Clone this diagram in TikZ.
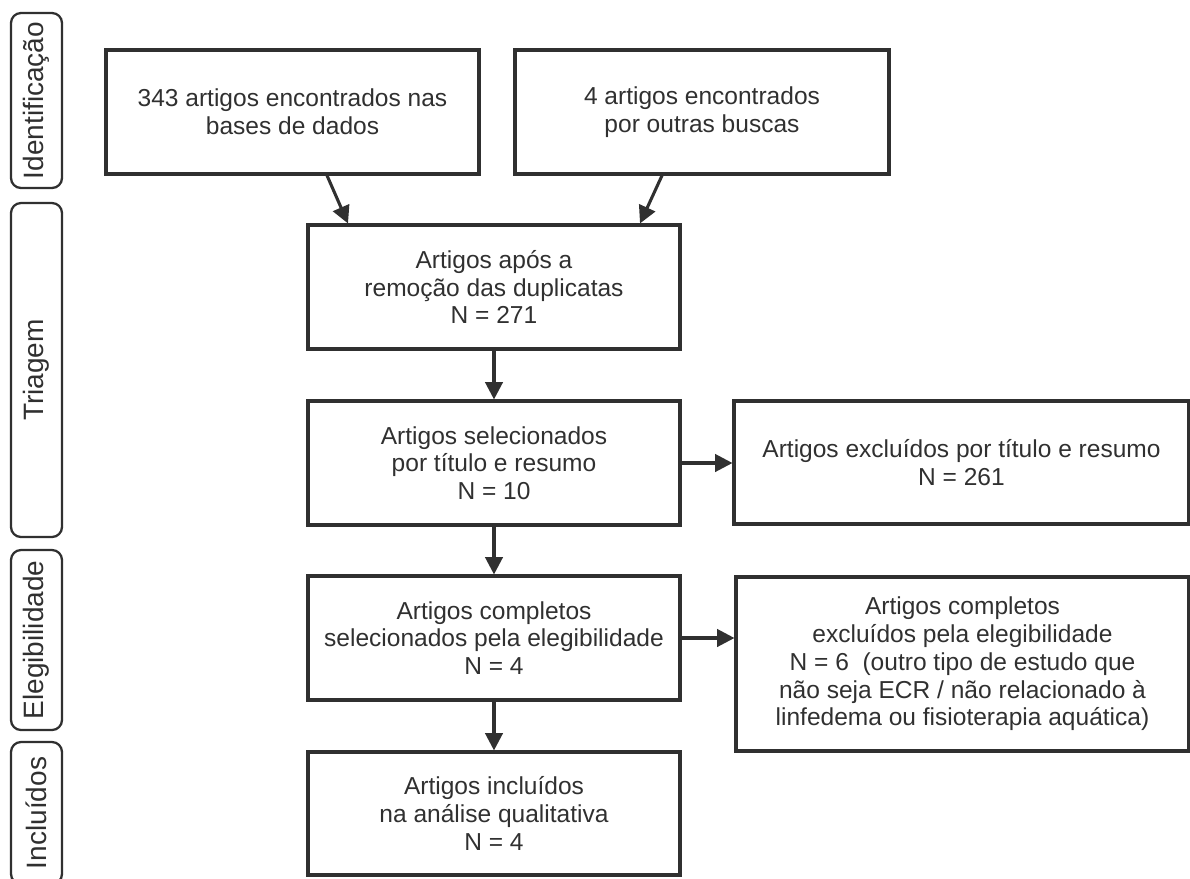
\documentclass[tikz,border=0pt]{standalone}
\usepackage{fontspec}
\setmainfont{Liberation Sans}
\usetikzlibrary{arrows.meta}
\definecolor{ink}{HTML}{303030}
\begin{document}
\begin{tikzpicture}[x=0.75pt,y=-0.75pt,
  box/.style={draw=ink,line width=2.3pt,rectangle,align=center,text=ink,
    font=\fontsize{18.4}{20.8}\selectfont,inner sep=0pt},
  side/.style={draw=ink,line width=1.7pt,rectangle,rounded corners=7.5pt,
    minimum width=38.25pt,inner sep=0pt},
  sidetext/.style={rotate=90,text=ink,inner sep=0pt,font=\fontsize{21}{24}\selectfont},
  arr/.style={draw=ink,line width=2.3pt,-{Triangle[length=13pt,width=13pt]}}]
\useasboundingbox (0,0) rectangle (1190,879);
\clip (0,0) rectangle (1190,879);
% side stage labels
\node[side,minimum height=131.25pt] (s1) at (36.5,100.5) {};
\node[sidetext] (t1) at (s1.center) {Identificação};
\node[side,minimum height=250.5pt] (s2) at (36.5,370) {};
\node[sidetext] (t2) at (s2.center) {Triagem};
\node[side,minimum height=135pt] (s3) at (36.5,640) {};
\node[sidetext] (t3) at (s3.center) {Elegibilidade};
\node[side,minimum height=106.5pt] (s4) at (36.5,813) {};
\node[sidetext] (t4) at (s4.center) {Incluídos};
% boxes
\node[box,minimum width=279.75pt,minimum height=93pt] (b1) at (292.5,112)
  {343 artigos encontrados nas\\bases de dados};
\node[box,minimum width=280.5pt,minimum height=93pt] (b2) at (702,112)
  {4 artigos encontrados\\por outras buscas};
\node[box,minimum width=279pt,minimum height=93pt] (b3) at (494,287)
  {Artigos após a\\remoção das duplicatas\\N = 271};
\node[box,minimum width=279pt,minimum height=93pt] (b4) at (494,463)
  {Artigos selecionados\\por título e resumo\\N = 10};
\node[box,minimum width=341.25pt,minimum height=92.25pt] (b5) at (961.5,462.5)
  {Artigos excluídos por título e resumo\\N = 261};
\node[box,minimum width=279pt,minimum height=93pt] (b6) at (494,638)
  {Artigos completos\\selecionados pela elegibilidade\\N = 4};
\node[box,minimum width=339.75pt,minimum height=130.5pt] (b8) at (962.5,664)
  {Artigos completos\\excluídos pela elegibilidade\\N = 6~~(outro tipo de estudo que\\não seja ECR / não relacionado à\\linfedema ou fisioterapia aquática)};
\node[box,minimum width=279pt,minimum height=92.25pt] (b7) at (494,813.5)
  {Artigos incluídos\\na análise qualitativa\\N = 4};
% connectors
\draw[arr] ([xshift=25.9pt]b1.south) -- ([xshift=-109.5pt]b3.north);
\draw[arr] ([xshift=-30pt]b2.south) -- ([xshift=109.5pt]b3.north);
\draw[arr] (b3.south) -- (b4.north);
\draw[arr] (b4.east) -- (b4.east -| b5.west);
\draw[arr] (b4.south) -- (b6.north);
\draw[arr] (b6.east) -- (b6.east -| b8.west);
\draw[arr] (b6.south) -- (b7.north);
\end{tikzpicture}
\end{document}
